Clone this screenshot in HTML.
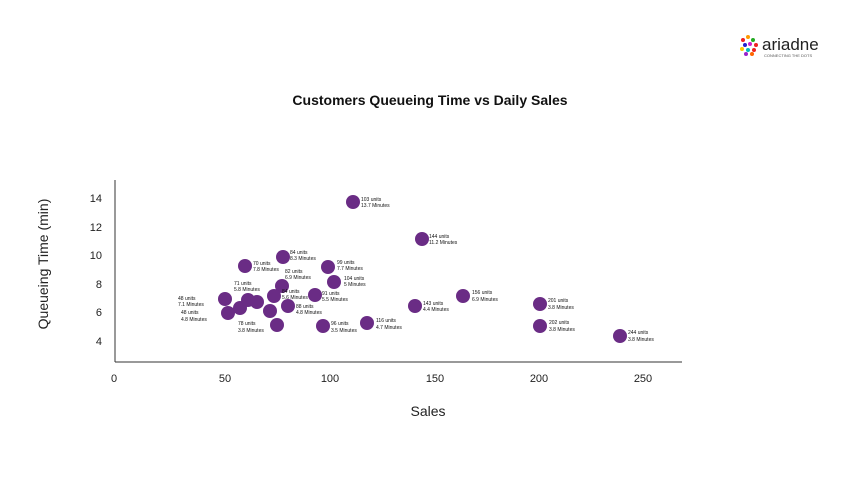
<!DOCTYPE html>
<html><head><style>
body{margin:0;background:#fff;width:853px;height:480px;overflow:hidden;font-family:"Liberation Sans",sans-serif}
</style></head><body>
<svg width="853" height="480" xmlns="http://www.w3.org/2000/svg" font-family="Liberation Sans, sans-serif">
<text x="430" y="105" text-anchor="middle" font-size="14" font-weight="bold" fill="#111">Customers Queueing Time vs Daily Sales</text>
<line x1="115" y1="180" x2="115" y2="362" stroke="#333" stroke-width="1"/>
<line x1="115" y1="362" x2="682" y2="362" stroke="#333" stroke-width="1"/>
<g font-size="11" fill="#222" text-anchor="end">
<text x="102" y="202">14</text><text x="102" y="231">12</text><text x="102" y="259">10</text>
<text x="102" y="288">8</text><text x="102" y="316">6</text><text x="102" y="345">4</text>
</g>
<g font-size="11" fill="#222" text-anchor="middle">
<text x="114" y="382">0</text><text x="225" y="382">50</text><text x="330" y="382">100</text>
<text x="435" y="382">150</text><text x="539" y="382">200</text><text x="643" y="382">250</text>
</g>
<text x="428" y="416" text-anchor="middle" font-size="14" fill="#222">Sales</text>
<text transform="translate(48,264) rotate(-90)" text-anchor="middle" font-size="14" fill="#222">Queueing Time (min)</text>
<g fill="#6a2c85">
<circle cx="353" cy="202" r="7"/><circle cx="422" cy="239" r="7"/><circle cx="283" cy="257" r="7"/>
<circle cx="245" cy="266" r="7"/><circle cx="328" cy="267" r="7"/><circle cx="334" cy="282" r="7"/>
<circle cx="282" cy="286" r="7"/><circle cx="225" cy="299" r="7"/><circle cx="274" cy="296" r="7"/>
<circle cx="315" cy="295" r="7"/><circle cx="288" cy="306" r="7"/><circle cx="240" cy="308" r="7"/>
<circle cx="248" cy="300" r="7"/><circle cx="257" cy="302" r="7"/><circle cx="270" cy="311" r="7"/>
<circle cx="228" cy="313" r="7"/><circle cx="277" cy="325" r="7"/><circle cx="323" cy="326" r="7"/>
<circle cx="367" cy="323" r="7"/><circle cx="415" cy="306" r="7"/><circle cx="463" cy="296" r="7"/>
<circle cx="540" cy="304" r="7"/><circle cx="540" cy="326" r="7"/><circle cx="620" cy="336" r="7"/>
</g>
<g font-size="5" fill="#111">
<text x="361" y="201">103 units</text><text x="361" y="207">13.7 Minutes</text>
<text x="429" y="238">144 units</text><text x="429" y="244">11.2 Minutes</text>
<text x="290" y="254">84 units</text><text x="290" y="260">8.3 Minutes</text>
<text x="253" y="265">70 units</text><text x="253" y="271">7.8 Minutes</text>
<text x="337" y="264">99 units</text><text x="337" y="270">7.7 Minutes</text>
<text x="344" y="280">104 units</text><text x="344" y="286">5 Minutes</text>
<text x="285" y="273">82 units</text><text x="285" y="279">6.9 Minutes</text>
<text x="234" y="285">71 units</text><text x="234" y="291">5.8 Minutes</text>
<text x="282" y="293">84 units</text><text x="282" y="299">5.6 Minutes</text>
<text x="322" y="295">91 units</text><text x="322" y="301">5.5 Minutes</text>
<text x="296" y="308">88 units</text><text x="296" y="314">4.8 Minutes</text>
<text x="178" y="300">48 units</text><text x="178" y="306">7.1 Minutes</text>
<text x="181" y="314">48 units</text><text x="181" y="321">4.8 Minutes</text>
<text x="238" y="325">78 units</text><text x="238" y="332">3.8 Minutes</text>
<text x="331" y="325">96 units</text><text x="331" y="332">3.5 Minutes</text>
<text x="376" y="322">116 units</text><text x="376" y="329">4.7 Minutes</text>
<text x="423" y="305">143 units</text><text x="423" y="311">4.4 Minutes</text>
<text x="472" y="294">156 units</text><text x="472" y="301">6.9 Minutes</text>
<text x="548" y="302">201 units</text><text x="548" y="309">3.8 Minutes</text>
<text x="549" y="324">202 units</text><text x="549" y="331">3.8 Minutes</text>
<text x="628" y="334">244 units</text><text x="628" y="341">3.8 Minutes</text>
</g>
<g>
<circle cx="743" cy="40" r="2" fill="#e22"/><circle cx="748" cy="37" r="2" fill="#f90"/><circle cx="753" cy="40" r="2" fill="#2a2"/>
<circle cx="745" cy="45" r="2" fill="#22c"/><circle cx="750" cy="44" r="2" fill="#c2c"/><circle cx="756" cy="45" r="2" fill="#e22"/>
<circle cx="742" cy="49" r="2" fill="#fc0"/><circle cx="748" cy="50" r="2" fill="#0bb"/><circle cx="754" cy="50" r="2" fill="#e22"/>
<circle cx="746" cy="54" r="2" fill="#92c"/><circle cx="752" cy="54" r="2" fill="#f60"/>
</g>
<text x="762" y="50" font-size="17" fill="#222">ariadne</text>
<text x="764" y="57" font-size="4" fill="#555">CONNECTING THE DOTS</text>
</svg>
</body></html>
